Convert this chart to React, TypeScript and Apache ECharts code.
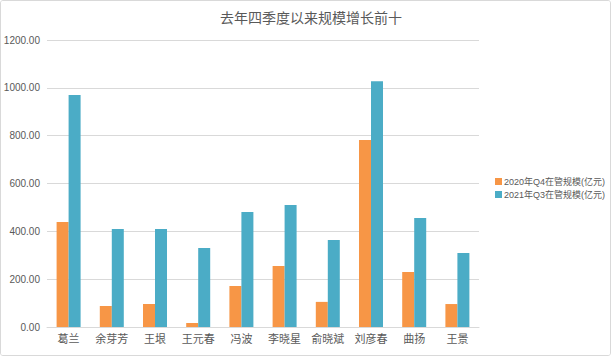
import React, { useEffect, useRef } from "react";
import * as echarts from "echarts";

const categories = ["葛兰", "余芽芳", "王垠", "王元春", "冯波", "李晓星", "俞晓斌", "刘彦春", "曲扬", "王景"];
const series2020Q4 = [439, 88, 96, 17, 171, 255, 105, 782, 230, 96];
const series2021Q3 = [970, 410, 410, 330, 481, 510, 364, 1028, 456, 309];
const seriesNames = ["2020年Q4在管规模(亿元)", "2021年Q3在管规模(亿元)"];
const titleText = "去年四季度以来规模增长前十";

const FONT = "'Liberation Sans', 'Noto Sans CJK SC', sans-serif";

export default function App() {
  const ref = useRef<HTMLDivElement>(null);
  useEffect(() => {
    if (!ref.current) return;
    const chart = echarts.init(ref.current, undefined, { renderer: "svg" });
    chart.setOption({
      animation: false,
      backgroundColor: "#ffffff",
      textStyle: { fontFamily: FONT },
      title: {
        text: titleText,
        left: 306,
        textAlign: "center",
        top: 6,
        textStyle: { fontSize: 14, fontWeight: "normal", color: "#595959", fontFamily: FONT },
      },
      legend: {
        orient: "vertical",
        left: 490,
        top: 172,
        itemWidth: 7,
        itemHeight: 7,
        itemGap: 4,
        icon: "rect",
        textStyle: { fontSize: 9, color: "#595959", fontFamily: FONT, padding: [0, 0, 0, -3] },
        data: seriesNames,
      },
      grid: { left: 47, right: 132, top: 40, bottom: 29, containLabel: false },
      xAxis: {
        type: "category",
        data: categories,
        axisLine: { lineStyle: { color: "#d9d9d9" } },
        axisTick: { show: false },
        axisLabel: { fontSize: 11, color: "#595959", margin: 6, fontFamily: FONT },
      },
      yAxis: {
        type: "value",
        min: 0,
        max: 1200,
        interval: 200,
        axisLine: { show: false },
        axisTick: { show: false },
        splitLine: { lineStyle: { color: "#d9d9d9" } },
        axisLabel: {
          fontSize: 10,
          color: "#595959",
          margin: 7,
          fontFamily: FONT,
          formatter: (v: number) => v.toFixed(2),
        },
      },
      series: [
        {
          name: seriesNames[0],
          type: "bar",
          data: series2020Q4,
          barWidth: 12,
          barGap: "0%",
          itemStyle: { color: "#F79646" },
        },
        {
          name: seriesNames[1],
          type: "bar",
          data: series2021Q3,
          barWidth: 12,
          barGap: "0%",
          itemStyle: { color: "#4BACC6" },
        },
      ],
    });
    return () => chart.dispose();
  }, []);
  return (
    <div
      style={{
        position: "fixed",
        left: 0,
        top: 0,
        width: 611,
        height: 356,
        boxSizing: "border-box",
        border: "1px solid #d9d9d9",
        borderRadius: 3,
        overflow: "hidden",
        background: "#fff",
      }}
    >
      <div ref={ref} style={{ position: "absolute", left: -1, top: -1, width: 611, height: 356 }} />
    </div>
  );
}
